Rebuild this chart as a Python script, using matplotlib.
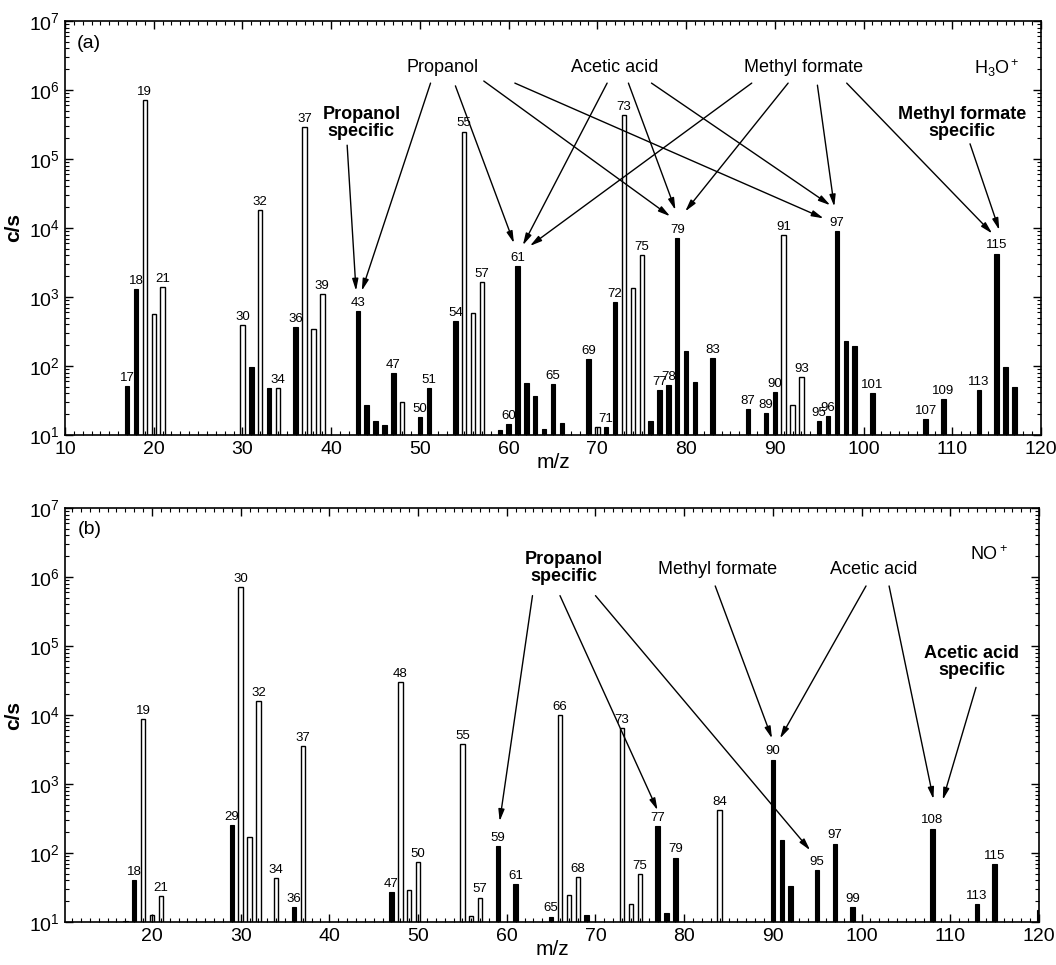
import matplotlib
matplotlib.use('Agg')
import matplotlib.pyplot as plt
from matplotlib import font_manager
from matplotlib.ticker import MultipleLocator, LogLocator, NullFormatter

installed = {f.name for f in font_manager.fontManager.ttflist}
NARROW = 'Liberation Sans Narrow' if 'Liberation Sans Narrow' in installed else 'Liberation Sans'

plt.rcParams['font.family'] = ['Liberation Sans', 'DejaVu Sans']
plt.rcParams['mathtext.fontset'] = 'custom'
plt.rcParams['mathtext.rm'] = NARROW
plt.rcParams['mathtext.it'] = NARROW + ':italic'
plt.rcParams['mathtext.bf'] = NARROW + ':bold'

# ---- panel (a): H3O+ precursor ----
a_black_mz = [17, 18, 31, 33, 36, 43, 44, 45, 46, 47, 50, 51, 54, 59, 60, 61, 62, 63,
              64, 65, 66, 69, 71, 72, 76, 77, 78, 79, 80, 81, 83, 87, 89, 90, 95, 96,
              97, 98, 99, 101, 107, 109, 113, 115, 116, 117]
a_black_cps = [51, 1300, 98, 48, 370, 630, 27, 16, 14, 80, 18, 48, 450, 11.8, 14.4, 2800, 57, 37,
               12.2, 55, 15, 125, 13, 850, 16, 45, 53, 7200, 165, 59, 130, 24, 21, 42, 16, 19,
               8900, 230, 198, 40, 17, 33, 45, 4270, 98, 50]
a_white_mz = [19, 20, 21, 30, 32, 34, 37, 38, 39, 48, 55, 56, 57, 70, 73, 74, 75, 91, 92, 93]
a_white_cps = [7.2e5, 560, 1400, 390, 1.8e4, 48, 2.9e5, 340, 1100, 30, 2.5e5, 590, 1660, 13,
               4.3e5, 1340, 4100, 7900, 27, 70]
a_labelled = [17, 18, 19, 21, 30, 32, 34, 36, 37, 39, 43, 47, 50, 51, 54, 55, 57, 60, 61,
              65, 69, 71, 72, 73, 75, 77, 78, 79, 83, 87, 89, 90, 91, 93, 95, 96, 97, 101,
              107, 109, 113, 115]

# ---- panel (b): NO+ precursor ----
b_black_mz = [17, 18, 29, 36, 47, 59, 61, 65, 69, 77, 78, 79, 90, 91, 92, 95, 97, 99,
              108, 113, 115, 120]
b_black_cps = [10.3, 41, 252, 16.5, 27, 127, 35, 12, 12.5, 245, 13.3, 86, 2260, 153, 33, 56, 137, 16.5,
               226, 18, 69, 15]
b_white_mz = [19, 20, 21, 30, 31, 32, 34, 37, 48, 49, 50, 55, 56, 57, 66, 67, 68, 73, 74, 75, 84]
b_white_cps = [8700, 12.5, 24, 7.1e5, 171, 1.6e4, 43, 3560, 3.0e4, 29, 75, 3740, 12.3, 22.6,
               1.0e4, 24.4, 45, 6500, 18.5, 50, 416]
b_labelled = [18, 19, 21, 29, 30, 32, 34, 36, 37, 47, 48, 50, 55, 57, 59, 61, 65, 66, 68,
              73, 75, 77, 79, 84, 90, 95, 97, 99, 108, 113, 115]

BAR_W = 0.5


def draw_spectrum(ax, black_mz, black_cps, white_mz, white_cps, labelled, xmin):
    ax.bar(black_mz, black_cps, width=BAR_W, color='black', edgecolor='black', linewidth=0.8)
    ax.bar(white_mz, white_cps, width=BAR_W, color='white', edgecolor='black', linewidth=1.0)
    ax.set_yscale('log')
    ax.set_ylim(10, 1e7)
    ax.set_xlim(xmin, 120)

    values = dict(zip(black_mz, black_cps))
    values.update(zip(white_mz, white_cps))
    for mz in labelled:
        ax.annotate(str(mz), (mz, values[mz]), xytext=(0, 1.5), textcoords='offset points',
                    ha='center', va='bottom', fontsize=9.5)

    ax.xaxis.set_major_locator(MultipleLocator(10))
    ax.xaxis.set_minor_locator(MultipleLocator(1))
    ax.yaxis.set_major_locator(LogLocator(base=10, numticks=10))
    ax.yaxis.set_minor_locator(LogLocator(base=10, subs=range(2, 10), numticks=20))
    ax.yaxis.set_minor_formatter(NullFormatter())
    ax.tick_params(which='both', direction='in', top=True, right=True, labelsize=14)
    ax.tick_params(which='major', length=6, width=1)
    ax.tick_params(which='minor', length=3, width=0.8)
    ax.tick_params(axis='x', pad=4)
    for lab in ax.get_xticklabels():
        lab.set_family(NARROW)
    for sp in ax.spines.values():
        sp.set_linewidth(1.2)
    ax.set_xlabel('m/z', fontsize=15, family=NARROW, labelpad=-3)
    ax.set_ylabel('c/s', fontsize=15, fontweight='bold', labelpad=4)


def arrow(ax, start, end):
    ax.annotate('', xy=end, xytext=start,
                arrowprops=dict(arrowstyle='-|>,head_length=0.7,head_width=0.18',
                                color='black', lw=1.0, shrinkA=0, shrinkB=0))


fig = plt.figure(figsize=(10.56, 9.65), dpi=100)
ax_a = fig.add_axes([65 / 1056, 1 - 435 / 965, 976 / 1056, 414 / 965])
ax_b = fig.add_axes([65 / 1056, 1 - 922 / 965, 974 / 1056, 414 / 965])

draw_spectrum(ax_a, a_black_mz, a_black_cps, a_white_mz, a_white_cps, a_labelled, 10)
draw_spectrum(ax_b, b_black_mz, b_black_cps, b_white_mz, b_white_cps, b_labelled, 10.2)
ax_b.set_xticks(range(20, 121, 10))
for lab in ax_b.get_xticklabels():
    lab.set_family(NARROW)

# ---- annotations (a) ----
ax_a.text(12.7, 10 ** 6.68, '(a)', fontsize=14, ha='center', va='center')
ax_a.text(115.0, 10 ** 6.32, r'H$_3$O$^+$', fontsize=13, ha='center', va='center')
ax_a.text(52.5, 10 ** 6.32, 'Propanol', fontsize=13, ha='center', va='center')
ax_a.text(72.0, 10 ** 6.32, 'Acetic acid', fontsize=13, ha='center', va='center')
ax_a.text(93.2, 10 ** 6.32, 'Methyl formate', fontsize=13, ha='center', va='center')
ax_a.text(43.4, 10 ** 5.52, 'Propanol\nspecific', fontsize=13, fontweight='bold',
          ha='center', va='center', linespacing=1.0)
ax_a.text(111.1, 10 ** 5.52, 'Methyl formate\nspecific', fontsize=13, fontweight='bold',
          ha='center', va='center', linespacing=1.0)

for s, e in [((51.2, 10 ** 6.10), (43.45, 10 ** 3.09)),
             ((54.0, 10 ** 6.06), (60.6, 10 ** 3.78)),
             ((57.2, 10 ** 6.13), (78.2, 10 ** 4.17)),
             ((60.7, 10 ** 6.10), (95.5, 10 ** 4.14)),
             ((71.1, 10 ** 6.10), (61.6, 10 ** 3.75)),
             ((73.5, 10 ** 6.10), (78.8, 10 ** 4.26)),
             ((76.1, 10 ** 6.10), (96.25, 10 ** 4.33)),
             ((87.4, 10 ** 6.10), (62.4, 10 ** 3.74)),
             ((91.5, 10 ** 6.10), (79.9, 10 ** 4.24)),
             ((94.8, 10 ** 6.07), (96.7, 10 ** 4.31)),
             ((98.1, 10 ** 6.10), (114.5, 10 ** 3.92)),
             ((41.8, 10 ** 5.20), (42.8, 10 ** 3.09)),
             ((112.0, 10 ** 5.22), (115.3, 10 ** 3.97))]:
    arrow(ax_a, s, e)

# ---- annotations (b) ----
ax_b.text(13.0, 10 ** 6.69, '(b)', fontsize=14, ha='center', va='center')
ax_b.text(114.4, 10 ** 6.32, r'NO$^+$', fontsize=13, ha='center', va='center')
ax_b.text(66.4, 10 ** 6.13, 'Propanol\nspecific', fontsize=13, fontweight='bold',
          ha='center', va='center', linespacing=1.0)
ax_b.text(83.8, 10 ** 6.11, 'Methyl formate', fontsize=13, ha='center', va='center')
ax_b.text(101.4, 10 ** 6.11, 'Acetic acid', fontsize=13, ha='center', va='center')
ax_b.text(112.4, 10 ** 4.77, 'Acetic acid\nspecific', fontsize=13, fontweight='bold',
          ha='center', va='center', linespacing=1.0)

for s, e in [((62.9, 10 ** 5.73), (59.2, 10 ** 2.46)),
             ((66.0, 10 ** 5.73), (77.0, 10 ** 2.62)),
             ((70.0, 10 ** 5.73), (94.2, 10 ** 2.04)),
             ((83.5, 10 ** 5.87), (89.9, 10 ** 3.66)),
             ((100.5, 10 ** 5.87), (90.8, 10 ** 3.66)),
             ((103.1, 10 ** 5.87), (108.1, 10 ** 2.78)),
             ((112.9, 10 ** 4.40), (109.15, 10 ** 2.77))]:
    arrow(ax_b, s, e)

fig.savefig('out.png', dpi=100)
